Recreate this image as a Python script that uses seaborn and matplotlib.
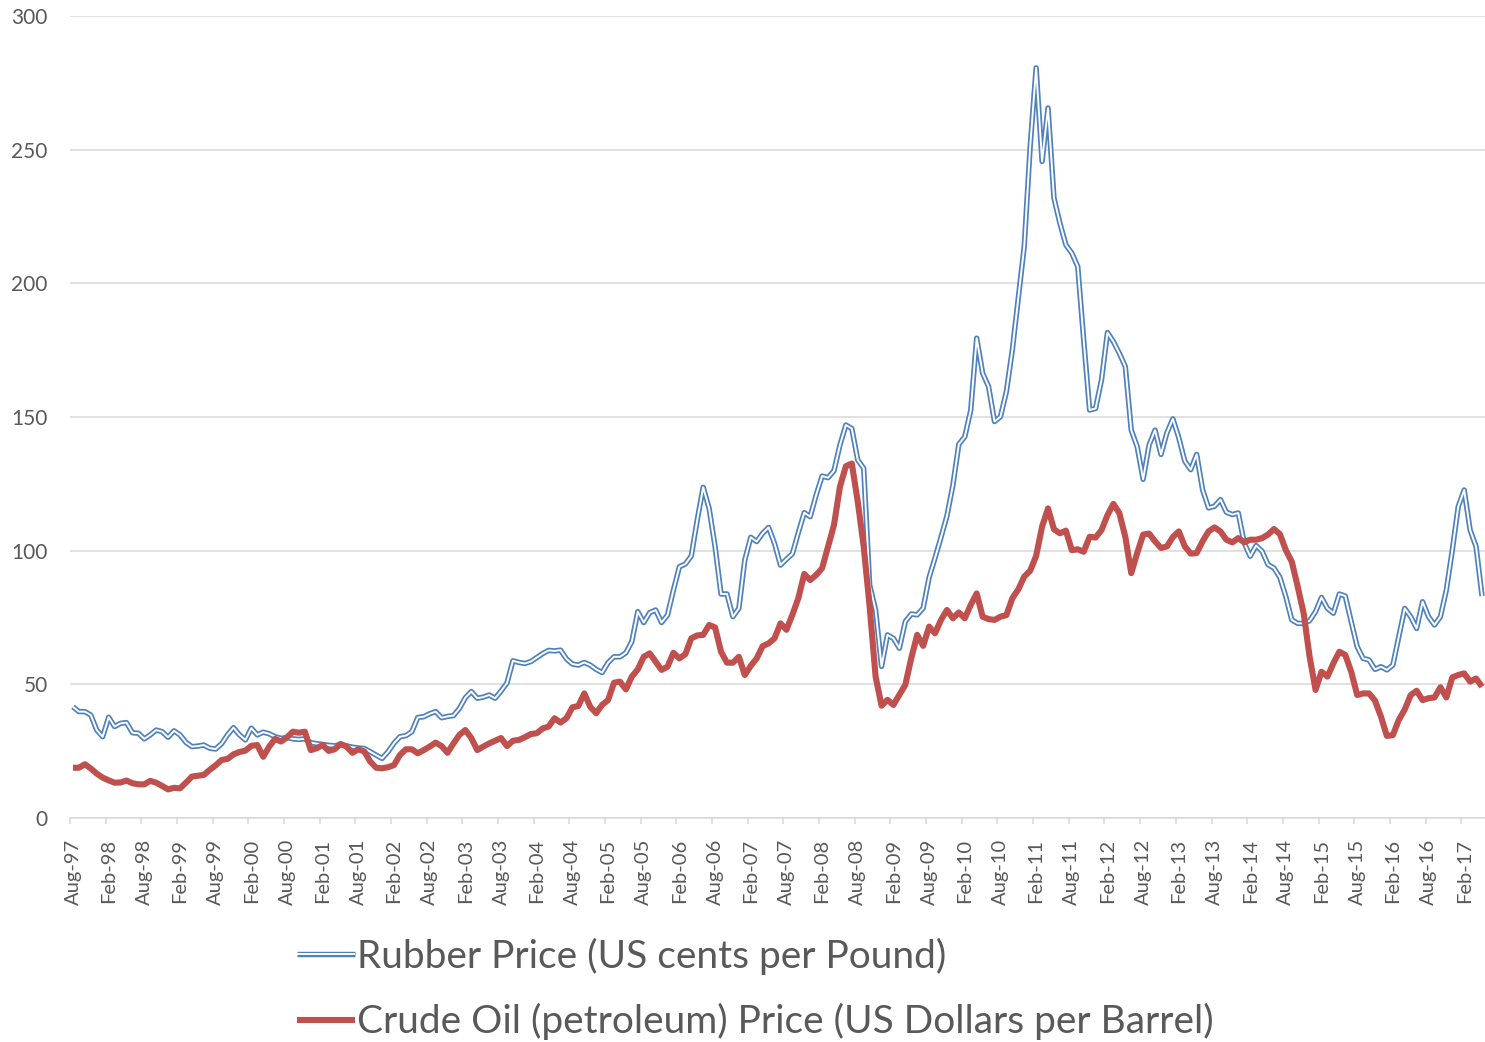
import numpy as np
import pandas as pd
import matplotlib
matplotlib.use('Agg')
import matplotlib.pyplot as plt
import matplotlib.patheffects as pe
import seaborn as sns

# Monthly prices, Aug-97 .. May-17
rubber = [41.6, 39.8, 39.8, 38.5, 32.9, 30.4, 37.7, 34.2, 35.4, 35.7,
          31.9, 31.7, 29.6, 31.1, 32.9, 32.3, 30.2, 32.6, 31.1, 28.3,
          26.7, 26.9, 27.3, 26.1, 25.8, 27.8, 31.1, 33.8, 31.1, 29.2,
          33.6, 31.1, 32.1, 31.5, 30.4, 29.8, 30.1, 29.6, 29.4, 29.6,
          28.2, 27.8, 27.5, 27.2, 27.0, 27.5, 27.0, 26.5, 26.2, 26.0,
          24.8, 23.5, 22.3, 24.8, 28.0, 30.4, 30.8, 32.3, 37.6, 37.9,
          39.0, 39.8, 37.5, 38.0, 38.3, 41.0, 45.0, 47.3, 44.8, 45.2,
          46.0, 44.8, 47.5, 50.5, 58.8, 58.2, 57.8, 58.5, 60.0, 61.5,
          62.7, 62.5, 62.8, 59.5, 57.6, 57.2, 58.2, 57.2, 55.6, 54.4,
          58.1, 60.3, 60.3, 61.8, 66.0, 77.2, 73.1, 76.8, 77.8, 73.1,
          75.9, 85.3, 94.0, 95.0, 98.0, 111.5, 123.7, 115.8, 101.5, 83.8,
          83.8, 75.3, 78.4, 96.5, 105.0, 103.4, 106.5, 108.7, 102.7, 94.6,
          96.8, 98.8, 106.7, 114.2, 112.7, 120.8, 127.9, 127.3, 129.9, 139.5,
          147.0, 145.7, 133.9, 130.8, 87.2, 77.8, 56.7, 68.5, 67.2, 63.5,
          73.5, 76.3, 76.0, 78.5, 90.0, 97.3, 105.0, 113.0, 124.5, 139.8,
          142.6, 152.5, 179.5, 166.4, 161.4, 148.3, 150.1, 159.5, 175.1, 194.4,
          213.8, 251.2, 280.6, 245.6, 265.6, 231.9, 222.5, 214.4, 211.3, 206.3,
          178.8, 152.6, 153.2, 163.9, 181.6, 178.2, 173.8, 168.9, 145.1, 138.9,
          126.7, 139.5, 145.1, 136.0, 144.1, 149.3, 142.2, 133.5, 130.3, 136.0,
          122.8, 116.0, 116.6, 119.1, 114.4, 113.5, 114.1, 102.9, 97.9, 101.9,
          99.8, 94.8, 93.5, 90.0, 82.8, 74.1, 72.8, 72.8, 73.8, 77.2,
          82.5, 78.4, 76.6, 83.8, 83.0, 73.4, 64.1, 59.7, 59.1, 55.6,
          56.6, 55.4, 57.2, 67.8, 78.4, 75.3, 70.9, 80.9, 75.3, 72.2,
          75.3, 85.3, 100.2, 116.5, 122.7, 107.7, 101.5, 83.0]

oil = [18.8, 18.8, 20.1, 18.5, 16.6, 15.1, 14.1, 13.2, 13.3, 14.0,
       13.0, 12.6, 12.6, 13.9, 13.2, 12.0, 10.7, 11.3, 11.1, 13.2,
       15.5, 15.8, 16.1, 18.0, 19.7, 21.7, 22.1, 23.8, 24.7, 25.2,
       27.0, 27.3, 22.9, 26.7, 29.6, 28.6, 30.2, 32.3, 31.9, 32.3,
       25.4, 26.1, 27.3, 25.1, 25.7, 27.7, 26.7, 24.4, 25.7, 24.9,
       21.1, 18.8, 18.6, 19.0, 19.8, 23.6, 25.7, 25.7, 24.2, 25.4,
       26.7, 28.2, 26.9, 24.4, 27.9, 31.1, 32.9, 29.9, 25.4, 26.7,
       27.9, 28.9, 29.9, 26.9, 28.9, 29.2, 30.2, 31.4, 31.7, 33.5,
       34.2, 37.3, 35.7, 37.3, 41.4, 41.9, 46.6, 41.6, 39.2, 42.3,
       44.1, 50.6, 51.0, 48.1, 52.9, 55.6, 60.3, 61.6, 58.5, 55.4,
       56.6, 61.8, 59.7, 61.3, 67.2, 68.3, 68.5, 72.2, 71.3, 62.2,
       58.1, 58.1, 60.3, 53.5, 56.9, 59.7, 64.3, 65.3, 67.2, 72.8,
       70.4, 76.0, 82.2, 91.3, 89.0, 90.9, 93.4, 101.5, 109.6, 123.9,
       131.6, 132.6, 118.3, 101.5, 79.1, 52.9, 42.0, 44.2, 42.3, 46.1,
       49.8, 59.8, 68.5, 64.4, 71.6, 69.1, 74.1, 77.8, 74.7, 76.9,
       74.7, 79.7, 84.0, 75.3, 74.4, 74.1, 75.3, 75.9, 82.2, 85.5,
       90.3, 92.5, 98.0, 109.0, 115.8, 108.0, 106.5, 107.5, 100.2, 100.5,
       99.6, 105.2, 104.9, 107.7, 113.3, 117.5, 114.0, 105.2, 91.6, 99.1,
       106.0, 106.4, 103.5, 101.0, 101.6, 105.1, 107.2, 101.6, 98.9, 99.1,
       103.5, 107.2, 108.7, 107.2, 104.1, 103.1, 104.7, 103.1, 104.1, 104.1,
       104.7, 106.0, 108.1, 106.2, 100.2, 95.9, 86.5, 76.6, 60.3, 47.9,
       54.7, 52.9, 57.9, 62.2, 61.0, 54.7, 46.0, 46.6, 46.6, 43.9,
       37.9, 30.7, 31.0, 36.7, 40.6, 46.0, 47.6, 44.1, 44.8, 45.1,
       48.9, 45.1, 52.6, 53.5, 54.1, 51.0, 52.2, 49.1]

# one label every 6 months
tick_labels = ['Aug-97', 'Feb-98', 'Aug-98', 'Feb-99', 'Aug-99', 'Feb-00',
               'Aug-00', 'Feb-01', 'Aug-01', 'Feb-02', 'Aug-02', 'Feb-03',
               'Aug-03', 'Feb-04', 'Aug-04', 'Feb-05', 'Aug-05', 'Feb-06',
               'Aug-06', 'Feb-07', 'Aug-07', 'Feb-08', 'Aug-08', 'Feb-09',
               'Aug-09', 'Feb-10', 'Aug-10', 'Feb-11', 'Aug-11', 'Feb-12',
               'Aug-12', 'Feb-13', 'Aug-13', 'Feb-14', 'Aug-14', 'Feb-15',
               'Aug-15', 'Feb-16', 'Aug-16', 'Feb-17']

series_labels = ['Rubber Price (US cents per Pound)',
                 'Crude Oil (petroleum) Price (US Dollars per Barrel)']

BLUE = '#4F81BD'
RED = '#C0504D'
GREY = '#595959'
GRID = '#D9D9D9'

sns.set_theme(style='white')
plt.rcParams['font.family'] = ['Lato', 'DejaVu Sans']

df = pd.DataFrame({'month': np.arange(len(rubber)), 'rubber': rubber, 'oil': oil})

W, H = 1485, 1042
fig = plt.figure(figsize=(W / 100, H / 100), dpi=100)
ax = fig.add_axes([70 / W, 1 - 818 / H, 1 - 70 / W, (818 - 16) / H])

# rubber: Excel "double" line -> blue stroke with a white core
sns.lineplot(data=df, x='month', y='rubber', ax=ax, estimator=None, sort=False,
             color=BLUE, linewidth=3.9, solid_joinstyle='round', solid_capstyle='butt',
             path_effects=[pe.Stroke(linewidth=3.9, foreground=BLUE),
                           pe.Stroke(linewidth=1.4, foreground='white')])
sns.lineplot(data=df, x='month', y='oil', ax=ax, estimator=None, sort=False,
             color=RED, linewidth=4.4, solid_joinstyle='round', solid_capstyle='butt')

ax.set_xlim(-0.5, len(rubber) - 0.5)
ax.set_ylim(0, 300)
ax.set_xlabel('')
ax.set_ylabel('')

# category axis: labels centred on months, tick marks on the boundaries
label_pos = np.arange(0, len(rubber), 6)
ax.set_xticks(label_pos)
ax.set_xticklabels(tick_labels, rotation=90)
ax.set_xticks(label_pos - 0.5, minor=True)
ax.tick_params(axis='x', which='major', length=0, pad=15, labelsize=14.5, labelcolor=GREY)
ax.tick_params(axis='x', which='minor', length=4.5, width=1.1, color=GRID, direction='out', bottom=True)

ax.set_yticks(np.arange(0, 301, 50))
ax.tick_params(axis='y', length=0, pad=16, labelsize=15, labelcolor=GREY)
ax.yaxis.grid(True, color=GRID, linewidth=1.1)
ax.set_axisbelow(True)

for side in ['top', 'right', 'left']:
    ax.spines[side].set_visible(False)
ax.spines['bottom'].set_color(GRID)
ax.spines['bottom'].set_linewidth(1.1)

fig.legend(handles=ax.lines[:2], labels=series_labels,
           loc='center left', bbox_to_anchor=(297 / W, 1 - 989 / H),
           frameon=False, fontsize=28, labelcolor=GREY,
           handlelength=1.5, handletextpad=0.05, labelspacing=0.72,
           borderpad=0, borderaxespad=0)

fig.savefig('out.png', dpi=100)
